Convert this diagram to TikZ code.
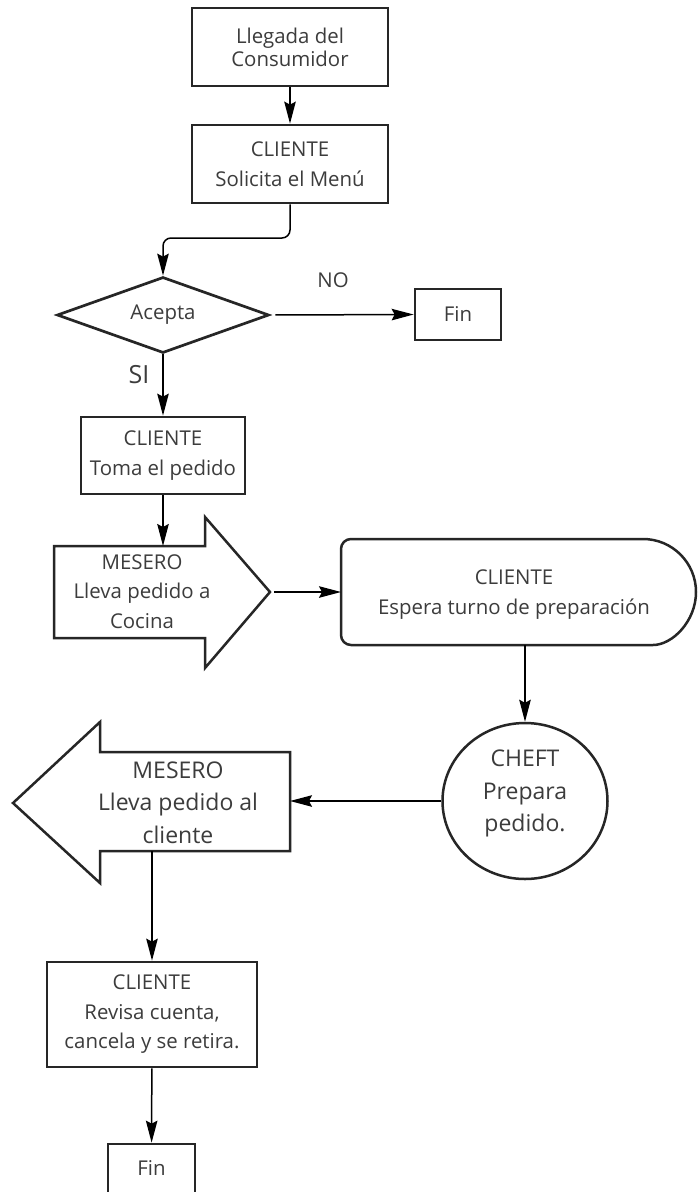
\documentclass[tikz,border=0pt]{standalone}
\usepackage{fontspec}
\setmainfont{Open Sans}
\usetikzlibrary{shapes.geometric,arrows.meta}
\definecolor{txt}{HTML}{3C3C3C}
\definecolor{edge}{HTML}{262626}
\begin{document}
\begin{tikzpicture}[x=1pt,y=-1pt,
  lbl/.style={text=txt, align=center, inner sep=0pt, font=\fontsize{20.4}{29.5}\selectfont},
  biglbl/.style={lbl, font=\fontsize{23}{32.5}\selectfont},
  procbox/.style={lbl, draw=edge, line width=2.7pt, rectangle},
  outline/.style={draw=edge, line width=2.5pt, line join=miter},
  conn/.style={line width=1.5pt, draw=black, -{Stealth[length=22pt,width=11.5pt,inset=3pt]}},
]
\path[fill=white, use as bounding box] (0,0) rectangle (698,1192);

% nodes
\node[procbox, minimum width=196pt, minimum height=78pt, font=\fontsize{20.4}{23}\selectfont] (llegada) at (290,47) {Llegada del\\Consumidor};
\node[procbox, minimum width=196pt, minimum height=78pt] (menu) at (290,164) {CLIENTE\\Solicita el Menú};
\node[lbl, diamond, draw=edge, line width=2.7pt, aspect=2.79, minimum width=212pt, minimum height=76pt] (acepta) at (163,315) {Acepta};
\node[procbox, minimum width=86pt, minimum height=51pt] (fin1) at (458,314.5) {Fin};
\node[lbl] (no) at (333,280) {NO};
\node[lbl, font=\fontsize{25}{30}\selectfont] (si) at (139,375) {SI};
\node[procbox, minimum width=164pt, minimum height=77pt] (toma) at (163,455.5) {CLIENTE\\Toma el pedido};

% right arrow (MESERO to kitchen)
\draw[outline] (54,546) -- (205,546) -- (205,517) -- (270,592) -- (205,668) -- (205,638) -- (54,638) -- cycle;
\node[lbl] (lleva) at (142,591.5) {MESERO\\Lleva pedido a\\Cocina};
\coordinate (llevatop) at (163,546);
\coordinate (llevatip) at (274,592);

% display shape
\draw[outline, rounded corners=10pt] (643,539) -- (341,539) -- (341,645) -- (643,645) [sharp corners] arc(90:-90:53) -- cycle;
\node[lbl] (espera) at (514,594.5) {CLIENTE\\Espera turno de preparación};
\coordinate (esperaW) at (341,592);
\coordinate (esperaS) at (525,645);

% circle
\node[ellipse, draw=edge, line width=2.5pt, minimum width=165pt, minimum height=156pt, inner sep=0pt] (cheft) at (525,801) {};
\node[biglbl] (chefttxt) at (525,793.5) {CHEFT\\Prepara\\pedido.};

% left arrow (MESERO to client)
\draw[outline] (290,752) -- (100,752) -- (100,722) -- (13,803) -- (100,883) -- (100,851) -- (290,851) -- cycle;
\node[biglbl] (trae) at (178,802.5) {MESERO\\Lleva pedido al\\cliente};
\coordinate (traeR) at (290,801);
\coordinate (traeB) at (152,851);

\node[procbox, minimum width=210pt, minimum height=105pt] (revisa) at (152,1014.5) {CLIENTE\\Revisa cuenta,\\cancela y se retira.};
\node[draw=edge, line width=2.7pt, rectangle, minimum width=87pt, minimum height=60pt, inner sep=0pt] (fin2) at (151.5,1174) {};
\node[lbl] (fin2txt) at (151.5,1168) {Fin};

% connectors
\coordinate (bend) at (0,238);
\draw[conn] (llegada) -- (menu);
\draw[conn, rounded corners=8pt] (menu.south) -- (menu.south |- bend) -- (acepta.north |- bend) -- (acepta.north);
\draw[conn, shorten <=5pt] (acepta.east) -- (fin1.west);
\draw[conn] (acepta.south) -- (toma.north);
\draw[conn] (toma.south) -- (llevatop);
\draw[conn] (llevatip) -- (esperaW);
\draw[conn] (esperaS) -- (cheft.north);
\draw[conn] (cheft.west) -- (traeR);
\draw[conn] (traeB) -- (revisa.north);
\draw[conn] (revisa) -- (fin2);
\end{tikzpicture}
\end{document}
